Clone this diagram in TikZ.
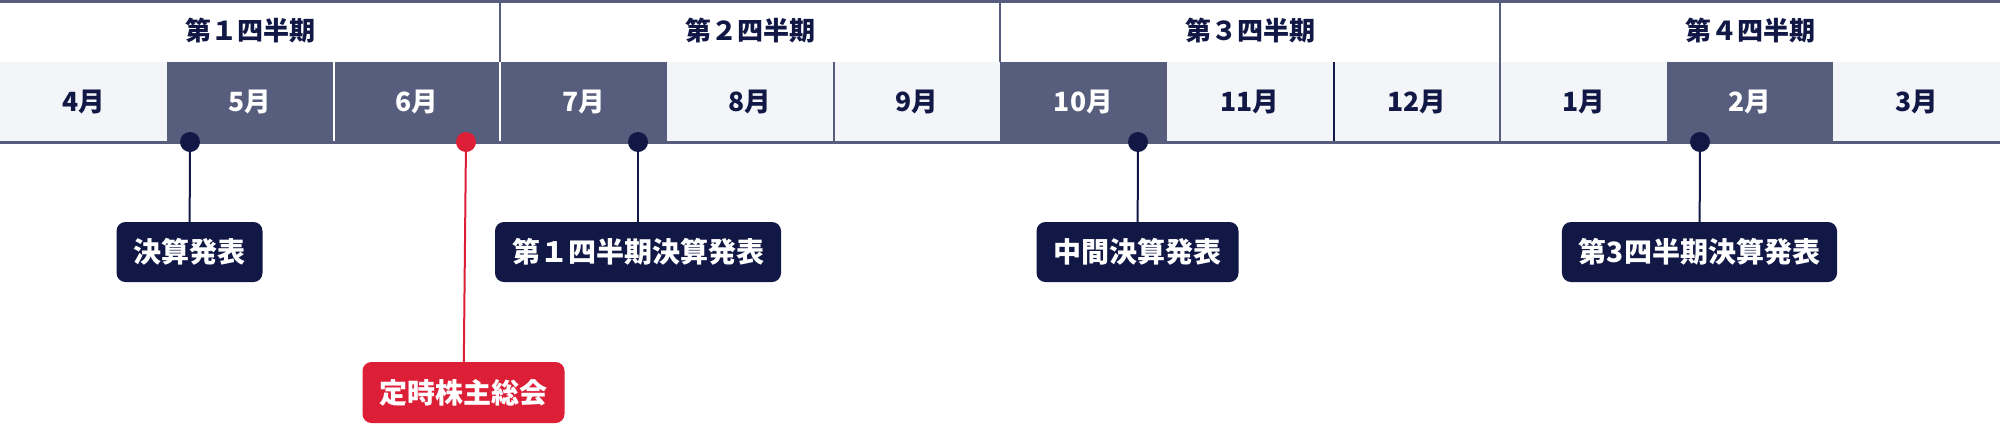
\documentclass[tikz,border=0pt]{standalone}
\usepackage{fontspec}
\setmainfont{Noto Sans CJK JP}
\definecolor{slate}{HTML}{575D7C}
\definecolor{navy}{HTML}{111845}
\definecolor{light}{HTML}{F4F5F8}
\definecolor{redev}{HTML}{DC1E37}
\tikzset{
  month/.style={rectangle, minimum width=166.67pt, minimum height=80pt, inner sep=0pt,
    font=\fontsize{26.5}{26.5}\selectfont\bfseries},
  lt/.style={fill=light, text=navy},
  dk/.style={fill=slate, text=white},
  quarter/.style={inner sep=0pt, text=navy, font=\fontsize{26}{26}\selectfont\bfseries},
  dot/.style={circle, fill=navy, minimum size=20pt, inner sep=0pt},
  reddot/.style={dot, fill=redev},
  evbox/.style={rectangle, rounded corners=9pt, fill=navy, text=white, inner xsep=17pt,
    inner ysep=0pt, minimum height=60pt, font=\fontsize{28}{28}\selectfont\bfseries},
  redbox/.style={evbox, fill=redev, minimum height=61pt},
  conn/.style={draw=navy, line width=2pt},
  redconn/.style={draw=redev, line width=2pt},
  divider/.style={line width=2pt}
}
\begin{document}
\begin{tikzpicture}[x=1pt,y=-1pt]
\useasboundingbox (0,0) rectangle (2000,424);
\fill[white] (0,0) rectangle (2000,424);
% month cells
\foreach \i/\lab/\st in {0/4月/lt,1/5月/dk,2/6月/dk,3/7月/dk,4/8月/lt,5/9月/lt,6/10月/dk,7/11月/lt,8/12月/lt,9/1月/lt,10/2月/dk,11/3月/lt}{
  \node[month,\st] (m\i) at ({\i*166.6667+83.3333},102) {\lab};
}
% quarter headers
\node[quarter] (q1) at (250,31) {第１四半期};
\node[quarter] (q2) at (750,31) {第２四半期};
\node[quarter] (q3) at (1250,31) {第３四半期};
\node[quarter] (q4) at (1750,31) {第４四半期};
% header dividers
\draw[divider, slate] (m2.north east) -- ++(0,-62);
\draw[divider, slate] (m5.north east) -- ++(0,-62);
\draw[divider, slate] (m8.north east) -- ++(0,-62);
% month dividers
\draw[divider, white] (m1.north east) -- (m1.south east);
\draw[divider, white] (m2.north east) -- (m2.south east);
\draw[divider, slate] (m4.north east) -- (m4.south east);
\draw[divider, navy] (m7.north east) -- (m7.south east);
\draw[divider, slate] (m8.north east) -- (m8.south east);
% top and bottom rules
\draw[slate, line width=2.5pt] (0,1.25) -- (2000,1.25);
\draw[slate, line width=3pt] (0,142) -- (2000,142);
% event dots
\node[dot] (d5) at (190,142) {};
\node[reddot] (d6) at (466,142) {};
\node[dot] (d7) at (638,142) {};
\node[dot] (d10) at (1138,142) {};
\node[dot] (d2) at (1700,142) {};
% event boxes
\node[evbox] (b1) at (189.5,252) {決算発表};
\node[redbox] (b2) at (463.5,392.5) {定時株主総会};
\node[evbox] (b3) at (638,252) {第１四半期決算発表};
\node[evbox] (b4) at (1137.5,252) {中間決算発表};
\node[evbox] (b5) at (1699.5,252) {第3四半期決算発表};
% connectors
\draw[conn] (d5) -- (b1);
\draw[redconn] (d6) -- (b2);
\draw[conn] (d7) -- (b3);
\draw[conn] (d10) -- (b4);
\draw[conn] (d2) -- (b5);
\end{tikzpicture}
\end{document}
